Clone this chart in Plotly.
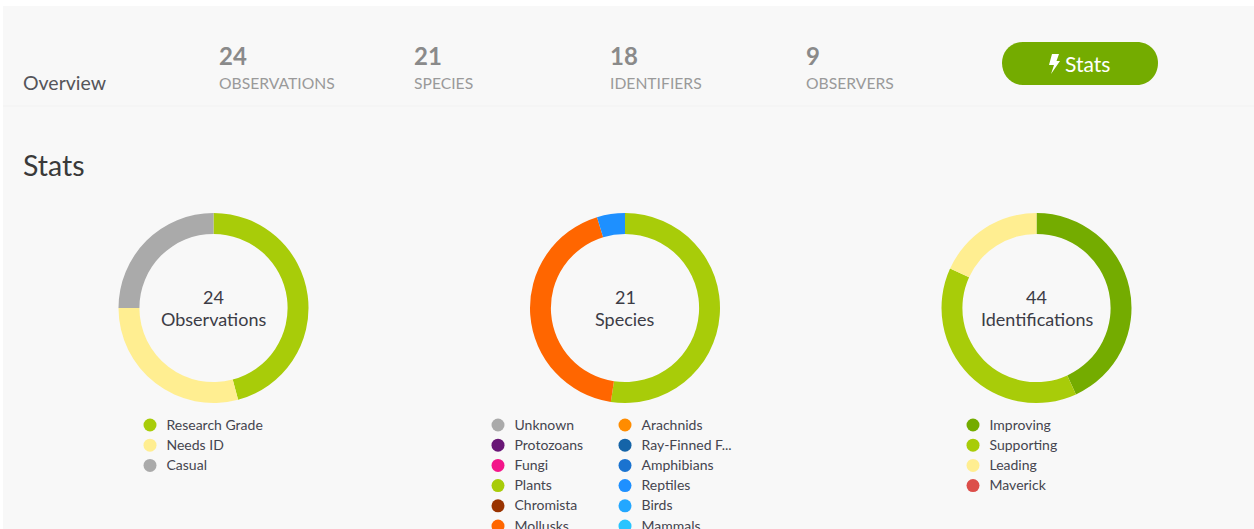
import plotly.graph_objects as go

WIDTH, HEIGHT = 1254, 529
FONT = "Lato"

# --- data ---
header_labels = ["OBSERVATIONS", "SPECIES", "IDENTIFIERS", "OBSERVERS"]
header_values = [24, 21, 18, 9]

obs_labels = ["Research Grade", "Needs ID", "Casual"]
obs_values = [11, 7, 6]
obs_colors = ["#a8cc09", "#ffee91", "#aaaaaa"]

species_labels = ["Unknown", "Protozoans", "Fungi", "Plants", "Chromista", "Mollusks",
                  "Arachnids", "Ray-Finned F...", "Amphibians", "Reptiles", "Birds", "Mammals"]
species_values = [0, 0, 0, 11, 0, 9, 0, 0, 0, 1, 0, 0]
species_colors = ["#aaaaaa", "#691776", "#f3158a", "#a8cc09", "#993300", "#ff6600",
                  "#ff8c00", "#1564a8", "#1a73d0", "#1e90ff", "#23a7ff", "#28c4ff"]

ident_labels = ["Improving", "Supporting", "Leading", "Maverick"]
ident_values = [19, 17, 8, 0]
ident_colors = ["#74ac00", "#a8cc09", "#ffee91", "#dc4e4a"]

donut_totals = ["24", "21", "44"]
donut_names = ["Observations", "Species", "Identifications"]

# --- layout constants (pixels) ---
donut_cx = [213.5, 625, 1036.5]
donut_cy, donut_r = 308, 95
header_x = [217, 412, 608, 804]


def dom(cx):
    return dict(x=[(cx - donut_r) / WIDTH, (cx + donut_r) / WIDTH],
                y=[1 - (donut_cy + donut_r) / HEIGHT, 1 - (donut_cy - donut_r) / HEIGHT])


fig = go.Figure()

for cx, labels, values, colors in [
    (donut_cx[0], obs_labels, obs_values, obs_colors),
    (donut_cx[1], species_labels, species_values, species_colors),
    (donut_cx[2], ident_labels, ident_values, ident_colors),
]:
    fig.add_trace(go.Pie(labels=labels, values=values, hole=0.78, sort=False,
                         direction="clockwise", rotation=0, textinfo="none",
                         marker=dict(colors=colors, line=dict(width=0)),
                         domain=dom(cx), showlegend=False, hoverinfo="label+value"))


def legend(labels, colors, x_dot, y_start, step=20.2):
    ys = [y_start + i * step for i in range(len(labels))]
    fig.add_trace(go.Scatter(x=[x_dot] * len(labels), y=ys, mode="markers",
                             marker=dict(size=13, color=colors, line=dict(width=0)),
                             showlegend=False, hoverinfo="skip"))
    fig.add_trace(go.Scatter(x=[x_dot + 16.5] * len(labels), y=[y + 1 for y in ys], mode="text",
                             text=labels, textposition="middle right",
                             textfont=dict(family=FONT, size=14, color="#45454f"),
                             showlegend=False, hoverinfo="skip"))


legend(obs_labels, obs_colors, 150, 425)
legend(species_labels[:6], species_colors[:6], 498, 425)
legend(species_labels[6:], species_colors[6:], 625, 425)
legend(ident_labels, ident_colors, 973, 425)

ann = []


def text(x, y, s, size, color, anchor="left", weight=None):
    t = f"<b>{s}</b>" if weight else s
    ann.append(dict(x=x, y=y, xref="x", yref="y", text=t, showarrow=False, xanchor=anchor,
                    yanchor="middle", font=dict(family=FONT, size=size, color=color)))


text(21, 82.5, "Overview", 19.5, "#55555a")
text(21, 165, "Stats", 28.5, "#3a3a3a")
for x, v, l in zip(header_x, header_values, header_labels):
    text(x, 55, str(v), 24, "#8a8a8a", weight=True)
    text(x, 82.5, l, 15.7, "#9a9a9a")
text(1063, 63, "Stats", 21, "#ffffff")
for cx, total, name in zip(donut_cx, donut_totals, donut_names):
    text(cx, 297, total, 18, "#3c3c46", "center")
    text(cx, 318.5, name, 18, "#3c3c46", "center")

shapes = [
    dict(type="rect", xref="x", yref="y", x0=3, x1=WIDTH, y0=6, y1=HEIGHT,
         fillcolor="#f8f8f8", line=dict(width=0), layer="below"),
    dict(type="line", xref="x", yref="y", x0=3, x1=WIDTH, y0=106, y1=106,
         line=dict(color="#f2f2f2", width=1), layer="below"),
    dict(type="path", xref="x", yref="y", layer="below", fillcolor="#74ac00",
         line=dict(width=0),
         path="M 1023 42 L 1137 42 C 1149 42 1158 51 1158 63 C 1158 75 1149 85 1137 85 "
              "L 1023 85 C 1011 85 1002 75 1002 63 C 1002 51 1011 42 1023 42 Z"),
    # lightning bolt icon
    dict(type="path", xref="x", yref="y", layer="above", fillcolor="#ffffff",
         line=dict(width=0),
         path="M 1052 54 L 1059 54 L 1056.5 61 L 1060 61 L 1051 74 L 1054 65 L 1049 65 Z"),
]

fig.update_layout(
    width=WIDTH, height=HEIGHT, margin=dict(l=0, r=0, t=0, b=0),
    paper_bgcolor="#ffffff", plot_bgcolor="rgba(0,0,0,0)", showlegend=False,
    xaxis=dict(range=[0, WIDTH], visible=False, fixedrange=True),
    yaxis=dict(range=[HEIGHT, 0], visible=False, fixedrange=True),
    annotations=ann, shapes=shapes,
)
fig.write_html("out.html", config={"displayModeBar": False},
               post_script="document.body.style.margin='0';document.body.style.overflow='hidden';")
